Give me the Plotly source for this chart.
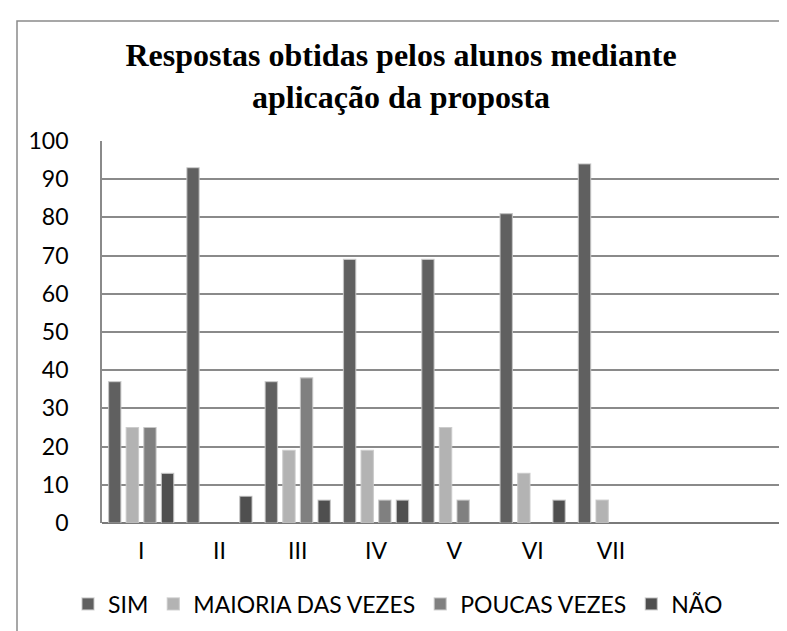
import plotly.graph_objects as go

categories = ["I", "II", "III", "IV", "V", "VI", "VII"]
sim = [37, 93, 37, 69, 69, 81, 94]
maioria = [25, 0, 19, 19, 25, 13, 6]
poucas = [25, 0, 38, 6, 6, 0, 0]
nao = [13, 7, 6, 6, 0, 6, 0]
series_names = ["SIM", "MAIORIA DAS VEZES", "POUCAS VEZES", "NÃO"]
colors = ["#606060", "#b3b3b3", "#808080", "#4f4f4f"]
yticks = [0, 10, 20, 30, 40, 50, 60, 70, 80, 90, 100]

W, H = 787, 631
L, T, B = 94, 133, 116
PW, PH = W - L, H - T - B

def px_x(p):
    return (p - L) / PW

def px_y(p):
    return (H - B - p) / PH

fig = go.Figure()
for name, vals, col in zip(series_names, [sim, maioria, poucas, nao], colors):
    fig.add_trace(go.Bar(
        x=categories, y=vals, name=name,
        marker=dict(color=col,
                    line=dict(color="rgba(200,200,200,0.8)",
                              width=[1.2 if v else 0 for v in vals])),
    ))

sans = "Lato, 'Liberation Sans', sans-serif"
fig.update_layout(
    width=W, height=H,
    margin=dict(l=L, r=0, t=T, b=B, pad=0),
    paper_bgcolor="white", plot_bgcolor="white",
    barmode="group", bargap=0.1, bargroupgap=0.3,
    title=dict(
        text="<b>Respostas obtidas pelos alunos mediante<br>aplicação da proposta</b>",
        font=dict(family="'Liberation Serif', 'Times New Roman', serif", size=32, color="black"),
        x=393 / W, xanchor="center", xref="container",
        y=1 - 58 / H, yanchor="top", yref="container",
    ),
    font=dict(family=sans, size=23, color="black"),
    showlegend=True,
    legend=dict(
        orientation="h", x=px_x(60), xanchor="left", y=px_y(596), yanchor="middle",
        font=dict(family=sans, size=23, color="black"),
        bgcolor="rgba(0,0,0,0)", itemwidth=30, traceorder="normal",
    ),
    xaxis=dict(
        type="category", range=[-0.5, PW / 78.3 - 0.5],
        showgrid=False, zeroline=False, showline=False,
        ticks="", tickfont=dict(family=sans, size=23), ticklabelstandoff=12,
        fixedrange=True,
    ),
    yaxis=dict(
        range=[0, 100], tickvals=yticks, showgrid=True, gridcolor="#8a8a8a", gridwidth=1.7,
        zeroline=True, zerolinecolor="#7a7a7a", zerolinewidth=2,
        showline=True, linecolor="#8a8a8a", linewidth=1.7,
        ticks="", tickfont=dict(family=sans, size=23), ticklabelstandoff=27,
    ),
)

# outer chart frame (extends past the visible window on right and bottom)
fig.add_shape(type="rect", xref="paper", yref="paper",
              x0=px_x(9), x1=px_x(820), y0=px_y(660), y1=px_y(13),
              line=dict(color="#8a8a8a", width=1.5), fillcolor="rgba(0,0,0,0)", layer="below")

fig.write_html("out.html")
